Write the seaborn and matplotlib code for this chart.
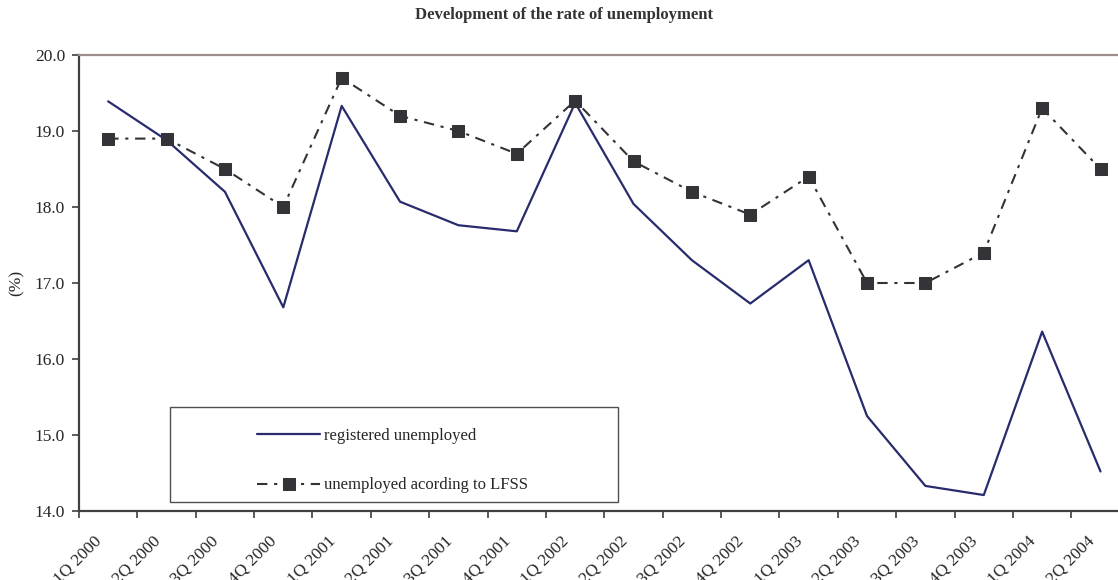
import matplotlib
matplotlib.use("Agg")
import matplotlib.pyplot as plt
import matplotlib.patches as mpatches
from matplotlib.ticker import FixedLocator, NullFormatter, FixedFormatter
import seaborn as sns
import pandas as pd

quarters = ["1Q 2000", "2Q 2000", "3Q 2000", "4Q 2000",
            "1Q 2001", "2Q 2001", "3Q 2001", "4Q 2001",
            "1Q 2002", "2Q 2002", "3Q 2002", "4Q 2002",
            "1Q 2003", "2Q 2003", "3Q 2003", "4Q 2003",
            "1Q 2004", "2Q 2004"]
registered = [19.39, 18.88, 18.20, 16.68, 19.33, 18.07, 17.76, 17.68, 19.37,
              18.04, 17.30, 16.73, 17.30, 15.25, 14.33, 14.21, 16.36, 14.52]
lfss = [18.9, 18.9, 18.5, 18.0, 19.7, 19.2, 19.0, 18.7, 19.4,
        18.6, 18.2, 17.9, 18.4, 17.0, 17.0, 17.4, 19.3, 18.5]
label_registered = "registered unemployed"
label_lfss = "unemployed acording to LFSS"
title = "Development of the rate of unemployment"
y_label = "(%)"
y_ticks = [14.0, 15.0, 16.0, 17.0, 18.0, 19.0, 20.0]

sns.set_style("white")
plt.rcParams["font.family"] = ["Liberation Serif", "DejaVu Serif"]

W, H = 1118, 580
fig = plt.figure(figsize=(W / 100, H / 100), dpi=100)

# plot area in pixel coordinates (right edge runs past the canvas)
left_px, right_px, top_px, bottom_px = 79, 1129.7, 55, 511
ax = fig.add_axes([left_px / W, 1 - bottom_px / H,
                   (right_px - left_px) / W, (bottom_px - top_px) / H])

df = pd.DataFrame({"quarter": quarters, "registered": registered, "lfss": lfss})
df["pos"] = range(len(quarters))

navy = "#282b6c"
dark = "#333338"
sns.lineplot(data=df, x="pos", y="registered", ax=ax, color=navy,
             linewidth=1.6, label=label_registered)
sns.lineplot(data=df, x="pos", y="lfss", ax=ax, color=dark,
             linewidth=1.5, marker="s", markersize=9, markeredgecolor=dark,
             markerfacecolor=dark, dashes=False, label=label_lfss)
lfss_line = ax.get_lines()[-1]
lfss_line.set_dashes((5, 3.2, 1.5, 3.2))

ax.set_xlim(-0.5, len(quarters) - 0.5)
ax.set_ylim(14.0, 20.0)
ax.set_yticks(y_ticks)
ax.set_yticklabels([f"{v:.1f}" for v in y_ticks], fontsize=12.5)

# tick marks between categories; slanted labels ending just left of each centre
ax.xaxis.set_major_locator(FixedLocator([i - 0.5 for i in range(len(quarters) + 1)]))
ax.xaxis.set_major_formatter(NullFormatter())
ax.xaxis.set_minor_locator(FixedLocator([i - 0.15 for i in range(len(quarters))]))
ax.xaxis.set_minor_formatter(FixedFormatter(quarters))
ax.tick_params(axis="x", which="major", direction="out", length=5, width=1.2,
               color="#404040", bottom=True)
ax.tick_params(axis="x", which="minor", length=0, pad=20, labelsize=12.5)
ax.tick_params(axis="y", direction="out", length=5, width=1.2,
               color="#404040", left=True, labelsize=12.5, pad=5)
for lab in ax.xaxis.get_minorticklabels():
    lab.set_rotation(45)
    lab.set_ha("right")
    lab.set_va("center")
    lab.set_rotation_mode("anchor")

ax.set_xlabel("")
ax.set_ylabel(y_label, fontsize=12.5, labelpad=7)

for side in ("left", "bottom"):
    ax.spines[side].set_color("#404040")
    ax.spines[side].set_linewidth(1.6)
ax.spines["top"].set_color("#9c8e8b")
ax.spines["top"].set_linewidth(1.6)
ax.spines["right"].set_visible(False)
ax.grid(False)

# legend box
ax.add_patch(mpatches.Rectangle(
    ((170 - left_px) / (right_px - left_px), (bottom_px - 502) / (bottom_px - top_px)),
    (618 - 170) / (right_px - left_px), (502 - 407) / (bottom_px - top_px),
    transform=ax.transAxes, facecolor="white", edgecolor="#505050",
    linewidth=1.0, zorder=3))
leg = ax.legend(loc="upper left", frameon=False, fontsize=12,
                bbox_to_anchor=(257 / W, 1 - 428 / H), bbox_transform=fig.transFigure,
                borderpad=0, borderaxespad=0, handlelength=3.8, handletextpad=0.2,
                labelspacing=2.0)
leg.set_zorder(4)

fig.text(564 / W, 1 - 15 / H, title, ha="center", va="center",
         fontsize=12, fontweight="bold", color="#333333")

fig.savefig("out.png", dpi=100)
